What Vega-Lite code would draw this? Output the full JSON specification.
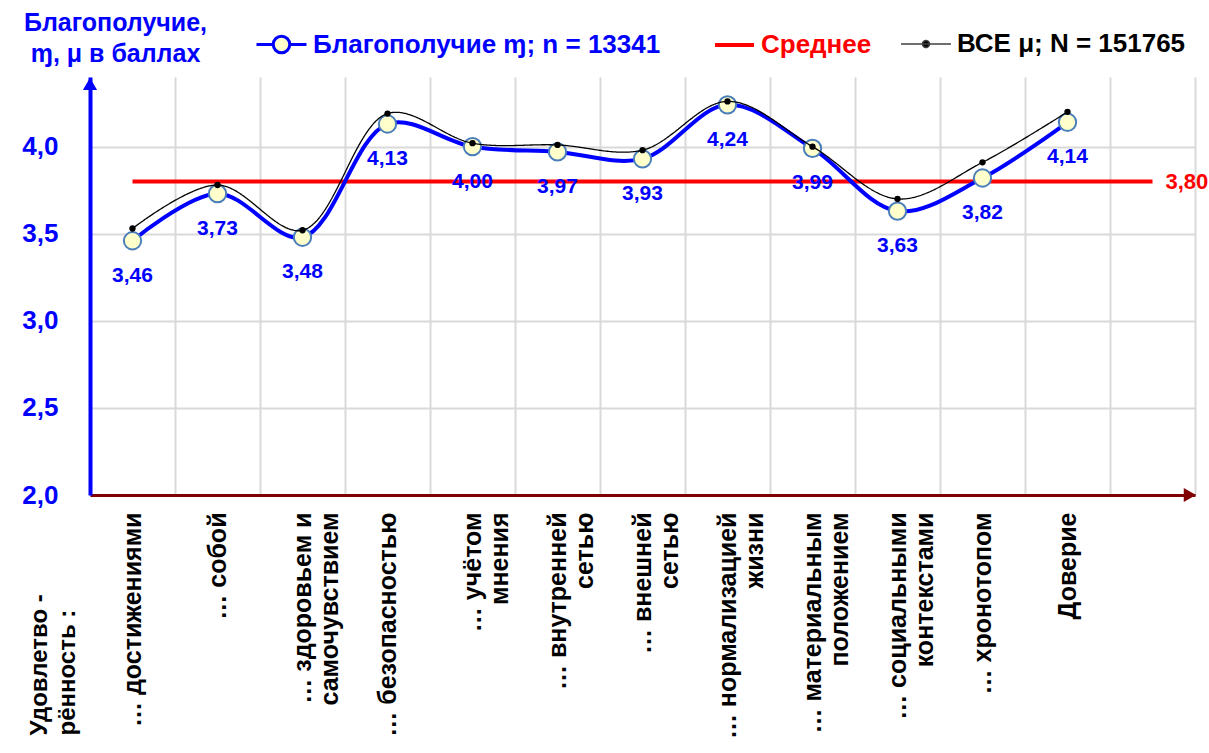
{
  "$schema": "https://vega.github.io/schema/vega-lite/v6.json",
  "autosize": {"type": "none"},
  "padding": {"left": 90, "top": 77, "right": 14, "bottom": 258},
  "width": 1105,
  "height": 418,
  "background": "white",
  "config": {
    "locale": {"number": {"decimal": ",", "thousands": " ", "grouping": [3], "currency": ["", ""]}},
    "font": "Liberation Sans",
    "view": {"stroke": null}
  },
  "data": {
    "values": [
      {"cat": "… достижениями", "series": "Благополучие ɱ; n = 13341", "value": 3.46},
      {"cat": "… собой", "series": "Благополучие ɱ; n = 13341", "value": 3.73},
      {"cat": "… здоровьем и\nсамочувствием", "series": "Благополучие ɱ; n = 13341", "value": 3.48},
      {"cat": "… безопасностью", "series": "Благополучие ɱ; n = 13341", "value": 4.13},
      {"cat": "… учётом\nмнения", "series": "Благополучие ɱ; n = 13341", "value": 4.00},
      {"cat": "… внутренней\nсетью", "series": "Благополучие ɱ; n = 13341", "value": 3.97},
      {"cat": "… внешней\nсетью", "series": "Благополучие ɱ; n = 13341", "value": 3.93},
      {"cat": "… нормализацией\nжизни", "series": "Благополучие ɱ; n = 13341", "value": 4.24},
      {"cat": "… материальным\nположением", "series": "Благополучие ɱ; n = 13341", "value": 3.99},
      {"cat": "… социальными\nконтекстами", "series": "Благополучие ɱ; n = 13341", "value": 3.63},
      {"cat": "… хронотопом", "series": "Благополучие ɱ; n = 13341", "value": 3.82},
      {"cat": "Доверие", "series": "Благополучие ɱ; n = 13341", "value": 4.14},
      {"cat": "… достижениями", "series": "ВСЕ μ; N = 151765", "value": 3.53},
      {"cat": "… собой", "series": "ВСЕ μ; N = 151765", "value": 3.78},
      {"cat": "… здоровьем и\nсамочувствием", "series": "ВСЕ μ; N = 151765", "value": 3.52},
      {"cat": "… безопасностью", "series": "ВСЕ μ; N = 151765", "value": 4.19},
      {"cat": "… учётом\nмнения", "series": "ВСЕ μ; N = 151765", "value": 4.02},
      {"cat": "… внутренней\nсетью", "series": "ВСЕ μ; N = 151765", "value": 4.01},
      {"cat": "… внешней\nсетью", "series": "ВСЕ μ; N = 151765", "value": 3.98},
      {"cat": "… нормализацией\nжизни", "series": "ВСЕ μ; N = 151765", "value": 4.26},
      {"cat": "… материальным\nположением", "series": "ВСЕ μ; N = 151765", "value": 4.00},
      {"cat": "… социальными\nконтекстами", "series": "ВСЕ μ; N = 151765", "value": 3.70},
      {"cat": "… хронотопом", "series": "ВСЕ μ; N = 151765", "value": 3.91},
      {"cat": "Доверие", "series": "ВСЕ μ; N = 151765", "value": 4.20},
      {"cat": "… достижениями", "series": "Среднее", "value": 3.80},
      {"cat": "… собой", "series": "Среднее", "value": 3.80},
      {"cat": "… здоровьем и\nсамочувствием", "series": "Среднее", "value": 3.80},
      {"cat": "… безопасностью", "series": "Среднее", "value": 3.80},
      {"cat": "… учётом\nмнения", "series": "Среднее", "value": 3.80},
      {"cat": "… внутренней\nсетью", "series": "Среднее", "value": 3.80},
      {"cat": "… внешней\nсетью", "series": "Среднее", "value": 3.80},
      {"cat": "… нормализацией\nжизни", "series": "Среднее", "value": 3.80},
      {"cat": "… материальным\nположением", "series": "Среднее", "value": 3.80},
      {"cat": "… социальными\nконтекстами", "series": "Среднее", "value": 3.80},
      {"cat": "… хронотопом", "series": "Среднее", "value": 3.80},
      {"cat": "Доверие", "series": "Среднее", "value": 3.80},
      {"cat": "", "series": "Среднее", "value": 3.80}
    ]
  },
  "encoding": {
    "x": {
      "field": "cat",
      "type": "nominal",
      "sort": null,
      "scale": {
        "type": "band",
        "domain": ["… достижениями", "… собой", "… здоровьем и\nсамочувствием", "… безопасностью", "… учётом\nмнения", "… внутренней\nсетью", "… внешней\nсетью", "… нормализацией\nжизни", "… материальным\nположением", "… социальными\nконтекстами", "… хронотопом", "Доверие", ""],
        "paddingInner": 0,
        "paddingOuter": 0
      },
      "axis": {
        "title": ["Удовлетво -", "рённость :"],
        "titleAngle": 270,
        "titleAlign": "left",
        "titleBaseline": "alphabetic",
        "titleX": -44,
        "titleY": 240,
        "titleFontSize": 24,
        "titleFontWeight": "bold",
        "titleColor": "#000000",
        "titleLineHeight": 28,
        "labelAngle": 270,
        "labelAlign": "right",
        "labelBaseline": "middle",
        "labelFontSize": 25,
        "labelFontWeight": "bold",
        "labelColor": "#000000",
        "labelPadding": 17,
        "labelLineHeight": 27,
        "labelLimit": 400,
        "labelOverlap": false,
        "labelExpr": "split(datum.label, '\\n')",
        "ticks": false,
        "tickSize": 0,
        "domainColor": "#800000",
        "domainWidth": 3,
        "grid": true,
        "gridColor": "#D9D9D9",
        "gridWidth": 2,
        "tickBand": "extent"
      }
    },
    "y": {
      "field": "value",
      "type": "quantitative",
      "scale": {"domain": [2, 4.4], "nice": false, "zero": false},
      "axis": {
        "title": ["Благополучие,", "ɱ, μ в баллах"],
        "titleAngle": 0,
        "titleAlign": "center",
        "titleBaseline": "alphabetic",
        "titleX": 25,
        "titleY": -47,
        "titleFontSize": 25,
        "titleFontWeight": "bold",
        "titleColor": "#0000FF",
        "titleLineHeight": 31,
        "values": [2, 2.5, 3, 3.5, 4],
        "format": ".1f",
        "labelFontSize": 26,
        "labelFontWeight": "bold",
        "labelColor": "#0000FF",
        "labelPadding": 32,
        "ticks": false,
        "tickSize": 0,
        "domainColor": "#0000FF",
        "domainWidth": 4,
        "grid": true,
        "gridColor": "#D9D9D9",
        "gridWidth": 2
      }
    }
  },
  "layer": [
    {
      "transform": [{"filter": "datum.series === 'Среднее'"}],
      "mark": {"type": "line", "strokeWidth": 4},
      "encoding": {
        "stroke": {
          "field": "series",
          "type": "nominal",
          "scale": {"range": ["#FF0000"]},
          "legend": {
            "title": null,
            "orient": "none",
            "legendX": 612,
            "legendY": -59,
            "labelFontSize": 26,
            "labelFontWeight": "bold",
            "labelColor": "#FF0000",
            "labelLimit": 600,
            "labelOffset": 5,
            "symbolSize": 2500,
            "symbolType": "M-0.56,0H1",
            "symbolStrokeWidth": 4,
            "padding": 0
          }
        }
      }
    },
    {
      "transform": [{"filter": "datum.series === 'Благополучие ɱ; n = 13341'"}],
      "mark": {"type": "line", "strokeWidth": 4, "interpolate": "catmull-rom"},
      "encoding": {
        "color": {
          "field": "series",
          "type": "nominal",
          "scale": {"range": ["#0000FF"]},
          "legend": {
            "title": null,
            "orient": "none",
            "legendX": 165,
            "legendY": -59,
            "labelFontSize": 26,
            "labelFontWeight": "bold",
            "labelColor": "#0000FF",
            "labelLimit": 600,
            "labelOffset": 5,
            "symbolSize": 2500,
            "symbolType": "M-1,0H-0.33M0.33,0H1M0.33,0A0.33,0.33 0 1 1 -0.33,0A0.33,0.33 0 1 1 0.33,0",
            "symbolFillColor": "#FFFFCC",
            "symbolStrokeWidth": 3,
            "padding": 0
          }
        }
      }
    },
    {
      "transform": [{"filter": "datum.series === 'Благополучие ɱ; n = 13341'"}],
      "mark": {"type": "circle", "size": 300, "fill": "#FFFFCC", "stroke": "#4A7EBB", "strokeWidth": 2, "opacity": 1, "fillOpacity": 1}
    },
    {
      "transform": [{"filter": "datum.series === 'ВСЕ μ; N = 151765'"}],
      "mark": {"type": "line", "strokeWidth": 1.3, "interpolate": "catmull-rom", "color": "#000000"},
      "encoding": {
        "strokeDash": {
          "field": "series",
          "type": "nominal",
          "scale": {"range": [[1, 0]]},
          "legend": {
            "title": null,
            "orient": "none",
            "legendX": 810,
            "legendY": -59,
            "labelFontSize": 26,
            "labelFontWeight": "bold",
            "labelColor": "#000000",
            "labelLimit": 600,
            "labelOffset": 5,
            "symbolSize": 2500,
            "symbolType": "M-1,0H1M0.14,0A0.14,0.14 0 1 1 -0.14,0A0.14,0.14 0 1 1 0.14,0",
            "symbolStrokeColor": "#404040",
            "symbolFillColor": "#000000",
            "symbolStrokeWidth": 1.5,
            "padding": 0
          }
        }
      }
    },
    {
      "transform": [{"filter": "datum.series === 'ВСЕ μ; N = 151765'"}],
      "mark": {"type": "circle", "size": 40, "color": "#000000", "opacity": 1}
    },
    {
      "transform": [{"filter": "datum.series === 'Благополучие ɱ; n = 13341'"}],
      "mark": {"type": "text", "dy": 35, "fontSize": 21, "fontWeight": "bold", "color": "#0000FF"},
      "encoding": {"text": {"field": "value", "type": "quantitative", "format": ".2f"}}
    },
    {
      "transform": [{"filter": "datum.series === 'Среднее' && datum.cat === ''"}],
      "mark": {"type": "text", "dx": 13, "align": "left", "baseline": "middle", "fontSize": 22, "fontWeight": "bold", "color": "#FF0000"},
      "encoding": {"text": {"field": "value", "type": "quantitative", "format": ".2f"}}
    },
    {
      "transform": [{"filter": "datum.series === 'Среднее' && datum.cat === '… достижениями'"}],
      "mark": {"type": "point", "shape": "triangle-up", "filled": true, "size": 200, "color": "#0000FF", "opacity": 1},
      "encoding": {
        "x": {"field": "cat", "type": "nominal", "bandPosition": 0},
        "y": {"datum": 4.36}
      }
    },
    {
      "transform": [{"filter": "datum.series === 'Среднее' && datum.cat === ''"}],
      "mark": {"type": "point", "shape": "triangle-right", "filled": true, "size": 200, "color": "#800000", "opacity": 1},
      "encoding": {
        "x": {"field": "cat", "type": "nominal", "bandPosition": 0.94},
        "y": {"datum": 2}
      }
    }
  ]
}
